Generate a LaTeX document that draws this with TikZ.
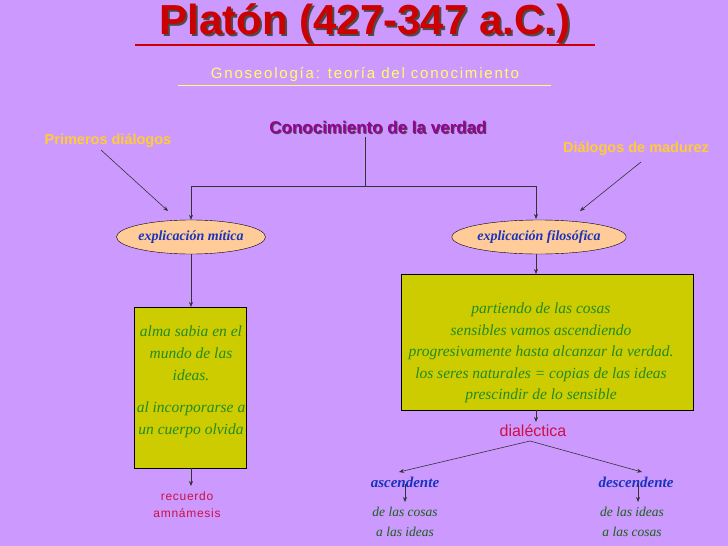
\documentclass[tikz,border=0pt]{standalone}
\usepackage{fontspec}
\setmainfont{Liberation Serif}
\setsansfont{Liberation Sans}
\usetikzlibrary{shapes.geometric,arrows.meta}
\definecolor{bg}{HTML}{CC99FF}
\definecolor{boxy}{HTML}{CCCC00}
\definecolor{ell}{HTML}{FFCC99}
\definecolor{titr}{HTML}{CC0000}
\definecolor{yel}{HTML}{FFFF66}
\definecolor{ora}{HTML}{FFCC33}
\definecolor{mag}{HTML}{990099}
\definecolor{grn}{HTML}{228B22}
\definecolor{blu}{HTML}{1A33BB}
\definecolor{crim}{HTML}{CC1144}
\tikzset{
 conn/.style={draw=black!80, line width=0.6pt},
 arr/.style={conn,-{Stealth[length=5pt,width=4pt]}},
 ellnode/.style={ellipse, draw=black, fill=ell, minimum width=146pt, minimum height=34pt, inner sep=0pt, font=\itshape\bfseries\fontsize{14}{16}\selectfont, text=blu},
 boxnode/.style={draw=black, fill=boxy, line width=0.8pt, inner sep=0pt},
 gtext/.style={text=grn, font=\itshape\fontsize{15.5}{22}\selectfont, align=center},
 redt/.style={text=crim, font=\sffamily\fontsize{12}{17}\selectfont, align=center},
 bluet/.style={text=blu, font=\itshape\bfseries\fontsize{15}{17}\selectfont},
 smallg/.style={text=grn!70!black, font=\itshape\fontsize{13.5}{20}\selectfont, align=center},
}
\begin{document}
\begin{tikzpicture}[x=1pt,y=-1pt]
\useasboundingbox[fill=bg] (0,0) rectangle (728,546);
% title
\node (title) [font=\sffamily\bfseries\fontsize{42}{44}\selectfont] at (365,24) {\color{black!70}\rlap{\kern2pt\raisebox{-2pt}{Platón (427-347 a.C.)}}\color{titr}Platón (427-347 a.C.)};
\draw[titr, line width=2.5pt] (135,45) -- (595,45);
\node (sub) [text=yel, font=\sffamily\fontsize{15}{17}\selectfont] at (365,75) {\addfontfeature{LetterSpace=12}Gnoseología: teoría del conocimiento};
\draw[yel, line width=0.8pt] (178,85) -- (551,85);
% heading
\node (cv) [font=\sffamily\bfseries\fontsize{17}{19}\selectfont] at (378,128) {\color{black!70}\rlap{\kern1pt\raisebox{-1pt}{Conocimiento de la verdad}}\color{mag}Conocimiento de la verdad};
\node (pd) [text=ora, font=\sffamily\bfseries\fontsize{14.5}{16}\selectfont] at (108,141) {Primeros diálogos};
\node (dm) [text=ora, font=\sffamily\bfseries\fontsize{14.5}{16}\selectfont] at (636,149) {Diálogos de madurez};
% ellipses
\node (em) [ellnode] at (191,237) {explicación mítica};
\node (ef) [ellnode] at (539,237) {explicación filosófica};
\coordinate (top) at (365,137);
\coordinate (mid) at (365,186);
\draw[conn] (top) -- (mid);
\draw[arr] (mid) -- (191,186) -- (em.north);
\draw[arr] (mid) -- (536,186) -- (536,219);
\coordinate (pa) at (101,150);
\coordinate (pb) at (168,211);
\coordinate (da) at (641,162);
\coordinate (db) at (580,211);
\draw[arr] (pa) -- (pb);
\draw[arr] (da) -- (db);
% left box
\node (lb) [boxnode, minimum width=112pt, minimum height=161pt] at (190,388) {};
\draw[arr] (191,254) -- (191,307);
\node[gtext] at (191,353) {alma sabia en el\\mundo de las\\ideas.};
\node[gtext] at (191,420) {al incorporarse a\\un cuerpo olvida};
\node (rec) [redt, font=\sffamily\fontsize{12}{17}\selectfont\addfontfeature{LetterSpace=6}] at (187,505) {recuerdo\\amnámesis};
\draw[arr] (191,468) -- (191,486);
% right box
\node (rb) [boxnode, minimum width=292pt, minimum height=136pt] at (547,342) {};
\draw[arr] (536,254) -- (536,274);
\node[gtext, font=\itshape\fontsize{15.5}{21.5}\selectfont] at (541,353) {partiendo de las cosas\\sensibles vamos ascendiendo\\progresivamente hasta alcanzar la verdad.\\los seres naturales = copias de las ideas\\prescindir de lo sensible};
\node (dia) [redt, font=\sffamily\fontsize{16}{18}\selectfont] at (533,431) {dialéctica};
\draw[arr] (536,410) -- (536,422);
\node (asc) [bluet] at (405,482) {ascendente};
\node (desc) [bluet] at (636,482) {descendente};
\coordinate (split) at (530,441);
\draw[arr] (split) -- (399,472);
\draw[arr] (split) -- (642,472);
\node (ac) [smallg] at (405,522) {de las cosas\\a las ideas};
\node (dc) [smallg] at (632,522) {de las ideas\\a las cosas};
\draw[arr] (405,484) -- (405,502);
\draw[arr] (638,484) -- (638,502);
\end{tikzpicture}
\end{document}
